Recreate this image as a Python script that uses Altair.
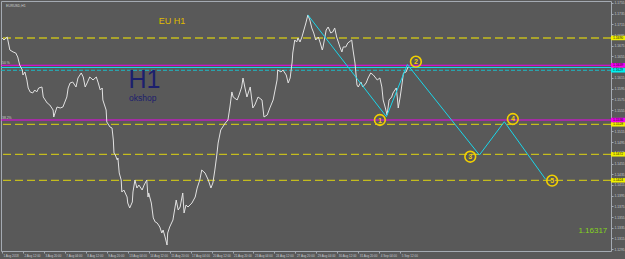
import json
import altair as alt
import pandas as pd

# ---- price series (H1 closes, bar index from 1 Aug 04:00) ----
bars = [0, 3, 8, 12, 17, 21, 24, 27, 31, 32, 35, 38, 40, 43, 47, 50, 53, 56, 61, 63,
        66, 69, 73, 78, 79, 84, 89, 93, 99, 101, 104, 108, 113, 116, 121, 124, 127, 130, 134, 139,
        144, 147, 150, 153, 154, 159, 160, 165, 168, 170, 171, 173, 176, 177, 179, 182, 183, 186, 191, 192,
        195, 199, 200, 203, 206, 209, 214, 217, 221, 223, 224, 228, 231, 234, 237, 241, 244, 246, 249, 252,
        253, 256, 261, 266, 269, 272, 276, 278, 281, 284, 290, 295, 298, 302, 305, 310, 315, 319, 322, 325,
        328, 330, 334, 336, 341, 345, 348, 351, 353, 359, 362, 366, 368, 371, 374, 379, 383, 386, 391, 397,
        400, 405, 409, 414, 417, 420, 421, 426, 429, 434, 437, 440, 443, 444, 447, 450, 452, 455, 458, 461,
        464, 467, 470, 473, 476, 479, 483, 486, 489, 490, 495, 498, 502, 505, 508, 511, 516, 519, 521, 525,
        528, 534, 536, 539, 542, 544, 548, 551, 556, 559, 563, 567, 573, 577, 580, 582, 585, 588, 591, 595,
        597, 602, 604, 605, 608, 611, 613, 617, 620]
prices = [1.16896, 1.16858, 1.16914, 1.16671, 1.16634, 1.16615, 1.16541, 1.16391, 1.16298, 1.16204,
          1.16260, 1.16111, 1.15961, 1.15887, 1.15868, 1.15924, 1.15887, 1.15961, 1.15980, 1.15793,
          1.15737, 1.15681, 1.15644, 1.15550, 1.15419, 1.15606, 1.15588, 1.15606, 1.15793, 1.15961,
          1.16055, 1.16073, 1.15980, 1.16148, 1.16242, 1.16167, 1.15980, 1.16055, 1.16167, 1.16111,
          1.16167, 1.16055, 1.15924, 1.15961, 1.15737, 1.15550, 1.15326, 1.15232, 1.15214, 1.14989,
          1.14746, 1.14709, 1.14616, 1.14653, 1.14373, 1.14242, 1.14018, 1.14055, 1.13924, 1.13812,
          1.13719, 1.13831, 1.14018, 1.14242, 1.14092, 1.14148, 1.14055, 1.14148, 1.14242, 1.13924,
          1.13999, 1.13812, 1.13532, 1.13457, 1.13438, 1.13363, 1.13251, 1.13307, 1.13177, 1.13027,
          1.13251, 1.13363, 1.13494, 1.13868, 1.13681, 1.13737, 1.13999, 1.13625, 1.13775, 1.13737,
          1.13812, 1.13924, 1.14092, 1.14242, 1.14429, 1.14373, 1.14242, 1.14092, 1.14186, 1.14429,
          1.14709, 1.14933, 1.15176, 1.15214, 1.15307, 1.15363, 1.15606, 1.15887, 1.15793, 1.15737,
          1.15830, 1.15980, 1.16148, 1.15961, 1.15793, 1.15980, 1.15588, 1.15644, 1.15793, 1.15737,
          1.15419, 1.15457, 1.15588, 1.15737, 1.15924, 1.16111, 1.16298, 1.16260, 1.16298, 1.16204,
          1.16055, 1.16148, 1.16447, 1.16615, 1.16858, 1.16821, 1.16896, 1.16821, 1.16914, 1.17045,
          1.17176, 1.17326, 1.17232, 1.17083, 1.16989, 1.16858, 1.16914, 1.16802, 1.16671, 1.16709,
          1.17045, 1.17101, 1.16989, 1.17008, 1.17083, 1.16914, 1.16728, 1.16634, 1.16728, 1.16728,
          1.16802, 1.16858, 1.16671, 1.16428, 1.16017, 1.15980, 1.16073, 1.15980, 1.16055, 1.16148,
          1.16242, 1.16204, 1.16111, 1.16148, 1.15980, 1.15737, 1.15606, 1.15457, 1.15737, 1.15793,
          1.15868, 1.15961, 1.15737, 1.15588, 1.15793, 1.16055, 1.16242, 1.16260, 1.16354]

# ---- Elliott wave projection ----
wave_bars = [467, 587, 619, 729, 767, 830]
wave_prices = [1.17326, 1.15425, 1.16400, 1.14709, 1.15331, 1.14255]
lbl_names = ["1", "2", "3", "4", "5"]
lbl_bars = [577, 632, 715, 780, 840]
lbl_prices = [1.15363, 1.16453, 1.14677, 1.15382, 1.14229]

# ---- horizontal levels ----
yellow_levels = [1.16896, 1.15283, 1.14722, 1.14236]
magenta_levels = [1.16386, 1.15363]
cyan_solid_levels = [1.16344]
cyan_dash_levels = [1.16292]

# ---- axes ----
price_ticks = [1.1755, 1.1735, 1.1715, 1.1695, 1.1675, 1.1655, 1.1635, 1.1615, 1.1595, 1.1575,
               1.1555, 1.1535, 1.1515, 1.1495, 1.1475, 1.1455, 1.1435, 1.1415, 1.1395, 1.1375,
               1.1355, 1.1335, 1.1315, 1.1295]
time_bars = [0, 32, 64, 96, 128, 160, 192, 224, 256, 288, 320, 352, 384, 416, 448, 480, 512, 544, 576, 608]
time_labels = ["1 Aug 2018", "2 Aug 12:00", "3 Aug 20:00", "7 Aug 04:00", "8 Aug 12:00",
               "9 Aug 20:00", "13 Aug 04:00", "14 Aug 12:00", "15 Aug 20:00", "17 Aug 04:00",
               "20 Aug 12:00", "21 Aug 20:00", "23 Aug 04:00", "24 Aug 12:00", "27 Aug 20:00",
               "29 Aug 04:00", "30 Aug 12:00", "31 Aug 20:00", "4 Sep 04:00", "5 Sep 12:00"]
last_price = "1.16317"

FONT = "Liberation Sans"
BG = "#595959"
FRAME = "#a4aab2"
YEL = "#c4bc1e"
MAG = "#f000f0"
CYAN = "#19d6ea"

xscale = alt.Scale(domain=[-1.53, 929.9], nice=False, zero=False)
yscale = alt.Scale(domain=[1.12915, 1.17587], nice=False, zero=False)

label_expr = json.dumps(time_labels) + "[round(datum.value / 32)]"

xaxis = alt.Axis(values=time_bars, labelExpr=label_expr, labelAlign="left", labelFontSize=3.0,
                 labelColor="#c8ccd2", tickColor=FRAME, tickSize=2, labelPadding=1.5, domain=False,
                 grid=False, title=None, labelOverlap=False, labelFlush=False, labelOffset=1,
                 labelFont=FONT)
yaxis = alt.Axis(orient="right", values=price_ticks, format=".4f", labelFontSize=3.3,
                 labelColor="#c8ccd2", tickColor=FRAME, tickSize=2, labelPadding=1, domain=False,
                 grid=False, title=None, labelOverlap=False, labelFont=FONT, labelAlign="left",
                 labelBaseline="middle")

def X():
    return alt.X("bar:Q", scale=xscale, axis=xaxis)

def Y():
    return alt.Y("price:Q", scale=yscale, axis=yaxis)

price_df = pd.DataFrame({"bar": bars, "price": prices})
wave_df = pd.DataFrame({"bar": wave_bars, "price": wave_prices})
lbl_df = pd.DataFrame({"bar": lbl_bars, "price": lbl_prices, "name": lbl_names})

def level_rules(levels, color, dash=None, width=1.0):
    kw = dict(color=color, strokeWidth=width)
    if dash:
        kw["strokeDash"] = dash
    return alt.Chart(pd.DataFrame({"price": levels})).mark_rule(**kw).encode(y=Y())

def axis_boxes(levels, color):
    df = pd.DataFrame({"price": levels})
    box = alt.Chart(df).mark_rule(color=color, strokeWidth=4.5, strokeCap="butt").encode(
        y=Y(), x=alt.value(610), x2=alt.value(624))
    txt = alt.Chart(df).mark_text(font=FONT, fontSize=3.3, color="#111111", align="left",
                                  baseline="middle").encode(
        y=Y(), x=alt.value(612), text=alt.Text("price:Q", format=".4f"))
    return [box, txt]

def note(text, x, y, size, color, align="left", weight="normal"):
    return alt.Chart(pd.DataFrame({"t": [text]})).mark_text(
        font=FONT, fontSize=size, color=color, align=align, baseline="alphabetic",
        fontWeight=weight).encode(x=alt.value(x), y=alt.value(y), text="t:N")

layers = [
    level_rules(yellow_levels, YEL, dash=[8, 4], width=1.3),
    level_rules(magenta_levels, MAG, width=1.0),
    level_rules(cyan_solid_levels, CYAN, width=1.0),
    level_rules(cyan_dash_levels, "#1fb8c4", dash=[4, 2], width=1.0),
    alt.Chart(price_df).mark_line(color="#e2e2e2", strokeWidth=1, interpolate="linear").encode(
        x=X(), y=Y()),
    alt.Chart(wave_df).mark_line(color=CYAN, strokeWidth=1).encode(x=X(), y=Y()),
    alt.Chart(lbl_df).mark_point(shape="circle", size=115, filled=False, color="#f2d000",
                                 strokeWidth=1.6, opacity=1).encode(x=X(), y=Y()),
    alt.Chart(lbl_df).mark_text(font=FONT, fontSize=7, fontWeight="bold", color="#f2d000",
                                baseline="middle", dy=0.5).encode(x=X(), y=Y(), text="name:N"),
]
layers += axis_boxes(yellow_levels, "#f0f000")
layers += axis_boxes(magenta_levels, "#f000f0")
layers += axis_boxes(cyan_dash_levels, "#00f0f0")
layers += [
    note("EU H1", 171, 23.3, 9, "#e0bc00", align="center"),
    note("H1", 127.5, 87, 25, "#1c206e"),
    note("okshop", 128, 100, 8.5, "#1c206e"),
    note(last_price, 606.3, 232.3, 8, "#84d41c", align="right"),
    note("EURUSD,H1", 5, 5.5, 3.4, "#d0d0d0"),
    note("50 %", 1, 63, 3.4, "#d0d0d0"),
    note("38.2%", 1, 118, 3.4, "#d0d0d0"),
]

chart = alt.layer(*layers).properties(
    width=610, height=250,
    padding={"left": 1, "top": 1, "right": 14, "bottom": 8},
    autosize=alt.AutoSizeParams(type="none"),
    background=BG,
).configure_view(stroke=FRAME, strokeWidth=1, fill=BG)

chart.save("out.html", embed_options={"renderer": "svg", "actions": False})
